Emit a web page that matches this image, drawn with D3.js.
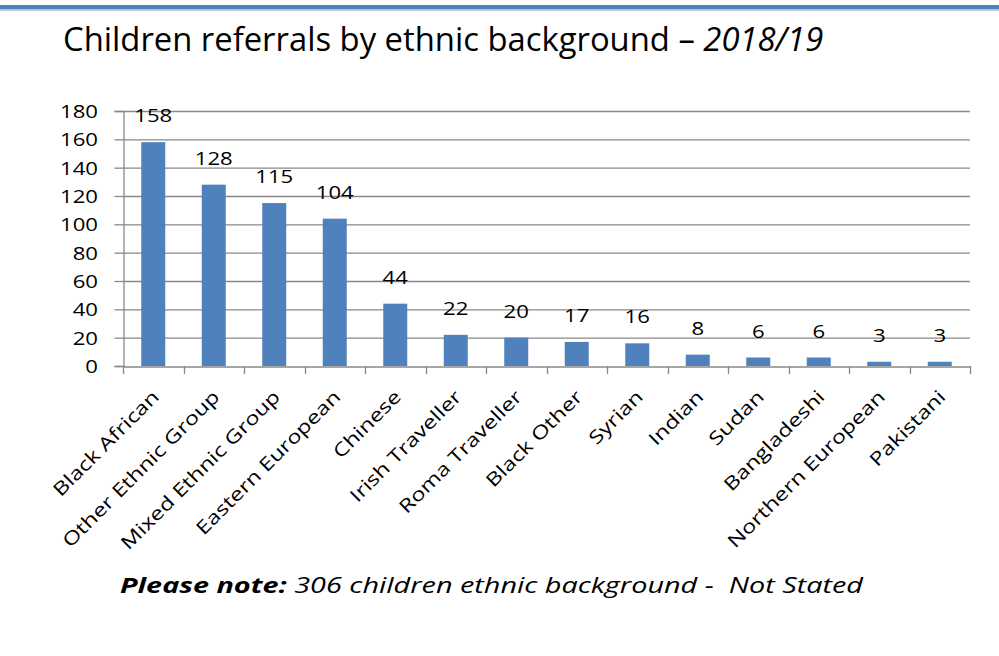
<!DOCTYPE html>
<html><head><meta charset="utf-8">
<script src="https://cdn.jsdelivr.net/npm/d3@7"></script>
<style>body{margin:0;background:#fff}svg{display:block}text{font-family:"Open Sans",sans-serif;fill:#000;white-space:pre}</style>
</head><body>
<script>
const categories = ["Black African","Other Ethnic Group","Mixed Ethnic Group","Eastern European","Chinese","Irish Traveller","Roma Traveller","Black Other","Syrian","Indian","Sudan","Bangladeshi","Northern European","Pakistani"];
const values = [158,128,115,104,44,22,20,17,16,8,6,6,3,3];
const yTicks = [0,20,40,60,80,100,120,140,160,180];

const W=999,H=656;
const svg=d3.select("body").append("svg").attr("width",W).attr("height",H);
svg.append("rect").attr("x",0).attr("y",5).attr("width",W).attr("height",4.5).attr("fill","#4F81BD");
svg.append("rect").attr("x",0).attr("y",9.5).attr("width",W).attr("height",1.2).attr("fill","#A7C0E0");

const title=svg.append("text").attr("x",63).attr("y",51).attr("font-size",32.8);
title.append("tspan").text("Children referrals by ethnic background – ");
title.append("tspan").attr("font-style","italic").text("2018/19");

const xb=d3.scaleBand().domain(categories).range([123,970]);
const y=d3.scaleLinear().domain([0,180]).range([366,111]);
const cx=c=>xb(c)+xb.bandwidth()/2;

const grid="#898989";
svg.append("g").selectAll("line").data(yTicks.filter(d=>d>0)).join("line")
  .attr("x1",123).attr("x2",970).attr("y1",d=>y(d)+0.5).attr("y2",d=>y(d)+0.5).attr("stroke",grid).attr("stroke-width",1.3);

const yAxis=svg.append("g").attr("transform","translate(123.5,0)").call(d3.axisLeft(y).tickValues(yTicks).tickSize(9).tickFormat(""));
yAxis.select(".domain").attr("stroke",grid).attr("stroke-width",1.3);
yAxis.selectAll(".tick line").attr("stroke",grid).attr("stroke-width",1.3);

svg.append("g").selectAll("text").data(yTicks).join("text")
  .attr("transform",d=>`translate(98,${y(d)+7}) scale(1.23,1)`)
  .attr("text-anchor","end").attr("font-size",18).text(d=>d);

svg.append("g").selectAll("rect").data(values).join("rect")
  .attr("x",(d,i)=>cx(categories[i])-12).attr("width",24)
  .attr("y",d=>y(d)).attr("height",d=>y(0)-y(d)).attr("fill","#4F81BD");

svg.append("g").selectAll("text").data(values).join("text")
  .attr("transform",(d,i)=>`translate(${cx(categories[i])},${y(d)-20}) scale(1.23,1)`)
  .attr("text-anchor","middle").attr("font-size",18).text(d=>d);

const xAxis=svg.append("g").attr("transform","translate(0,366.5)").call(d3.axisBottom(xb).tickValues([]).tickSizeOuter(0));
xAxis.select(".domain").attr("stroke",grid).attr("stroke-width",1.3);
const tickPos=d3.range(categories.length+1).map(i=>123+i*xb.step());
svg.append("g").selectAll("line").data(tickPos).join("line")
  .attr("x1",d=>Math.round(d)+0.5).attr("x2",d=>Math.round(d)+0.5).attr("y1",366).attr("y2",374).attr("stroke",grid).attr("stroke-width",1.3);

svg.append("g").selectAll("text").data(categories).join("text")
  .attr("transform",d=>`translate(${cx(d)+7},398) rotate(-45) scale(1.27,1)`)
  .attr("text-anchor","end").attr("font-size",18.5).text(d=>d);

const note=svg.append("text").attr("transform","translate(120,593) scale(1.31,1)").attr("font-size",22).attr("font-style","italic");
note.append("tspan").attr("font-weight","bold").text("Please note:");
note.append("tspan").text(" 306 children ethnic background -  Not Stated");
</script>
</body></html>
